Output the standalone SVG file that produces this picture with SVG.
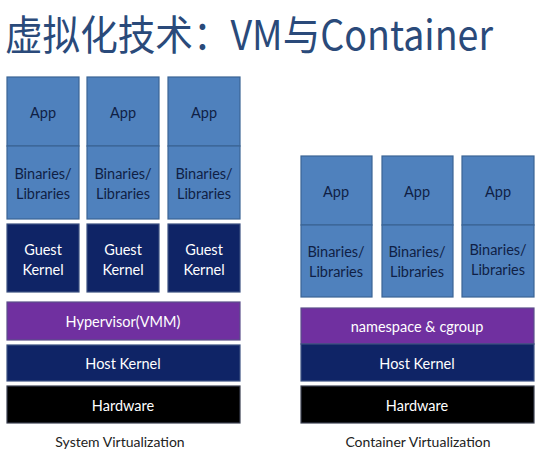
<svg xmlns="http://www.w3.org/2000/svg" width="545" height="455" viewBox="0 0 545 455">
<style>
.app{fill:#4F81BD;stroke:#3B6494;stroke-width:1.2}
.gk{fill:#0F2466;stroke:#3B5080;stroke-width:1.2}
.hv{fill:#7030A0;stroke:#5B4F8A;stroke-width:1.2}
.hw{fill:#000000;stroke:#3B4050;stroke-width:1.2}
.t{font-family:Lato,"Open Sans","Liberation Sans",sans-serif;font-size:14.5px;text-anchor:middle}
.d{fill:#0F1F45}
.w{fill:#FFFFFF}
.cap{font-family:Lato,"Open Sans","Liberation Sans",sans-serif;font-size:14px;text-anchor:middle;fill:#222}
</style>
<rect width="545" height="455" fill="#FFFFFF"/>
<text x="5" y="50" font-family="'Noto Sans CJK SC','Noto Sans',sans-serif" font-size="41" fill="#2A4A7A" textLength="488" lengthAdjust="spacingAndGlyphs">虚拟化技术：VM与Container</text>
<g id="connectors"></g>
<g id="sys-app1"><rect class="app" x="7" y="77" width="72" height="69"/><text class="t d" x="43" y="118">App</text></g>
<g id="sys-bin1"><rect class="app" x="7" y="146" width="72" height="73"/><text class="t d" x="43" y="179">Binaries/</text><text class="t d" x="43" y="199">Libraries</text></g>
<g id="sys-app2"><rect class="app" x="87" y="77" width="72" height="69"/><text class="t d" x="123" y="118">App</text></g>
<g id="sys-bin2"><rect class="app" x="87" y="146" width="72" height="73"/><text class="t d" x="123" y="179">Binaries/</text><text class="t d" x="123" y="199">Libraries</text></g>
<g id="sys-app3"><rect class="app" x="168" y="77" width="72" height="69"/><text class="t d" x="204" y="118">App</text></g>
<g id="sys-bin3"><rect class="app" x="168" y="146" width="72" height="73"/><text class="t d" x="204" y="179">Binaries/</text><text class="t d" x="204" y="199">Libraries</text></g>
<g id="sys-gk1"><rect class="gk" x="7" y="224" width="72" height="68"/><text class="t w" x="43" y="255">Guest</text><text class="t w" x="43" y="275">Kernel</text></g>
<g id="sys-gk2"><rect class="gk" x="87" y="224" width="72" height="68"/><text class="t w" x="123" y="255">Guest</text><text class="t w" x="123" y="275">Kernel</text></g>
<g id="sys-gk3"><rect class="gk" x="168" y="224" width="72" height="68"/><text class="t w" x="204" y="255">Guest</text><text class="t w" x="204" y="275">Kernel</text></g>
<g id="sys-hv"><rect class="hv" x="7" y="302" width="233" height="38"/><text class="t w" x="123" y="327">Hypervisor(VMM)</text></g>
<g id="sys-hk"><rect class="gk" x="7" y="345" width="233" height="36"/><text class="t w" x="123" y="369">Host Kernel</text></g>
<g id="sys-hw"><rect class="hw" x="7" y="386" width="233" height="37"/><text class="t w" x="123" y="411">Hardware</text></g>
<text class="cap" x="120" y="447">System Virtualization</text>
<g id="con-app1"><rect class="app" x="301" y="156" width="71" height="69"/><text class="t d" x="336" y="197">App</text></g>
<g id="con-bin1"><rect class="app" x="301" y="225" width="71" height="72"/><text class="t d" x="336" y="257">Binaries/</text><text class="t d" x="336" y="277">Libraries</text></g>
<g id="con-app2"><rect class="app" x="382" y="156" width="71" height="69"/><text class="t d" x="417" y="197">App</text></g>
<g id="con-bin2"><rect class="app" x="382" y="225" width="71" height="72"/><text class="t d" x="417" y="257">Binaries/</text><text class="t d" x="417" y="277">Libraries</text></g>
<g id="con-app3"><rect class="app" x="462" y="156" width="72" height="69"/><text class="t d" x="498" y="197">App</text></g>
<g id="con-bin3"><rect class="app" x="462" y="225" width="72" height="72"/><text class="t d" x="498" y="255">Binaries/</text><text class="t d" x="498" y="275">Libraries</text></g>
<g id="con-ns"><rect class="hv" x="301" y="308" width="233" height="36"/><text class="t w" x="417" y="332">namespace &amp; cgroup</text></g>
<g id="con-hk"><rect class="gk" x="301" y="344" width="233" height="37"/><text class="t w" x="417" y="369">Host Kernel</text></g>
<g id="con-hw"><rect class="hw" x="301" y="386" width="233" height="37"/><text class="t w" x="417" y="411">Hardware</text></g>
<text class="cap" x="418" y="447">Container Virtualization</text>
</svg>
